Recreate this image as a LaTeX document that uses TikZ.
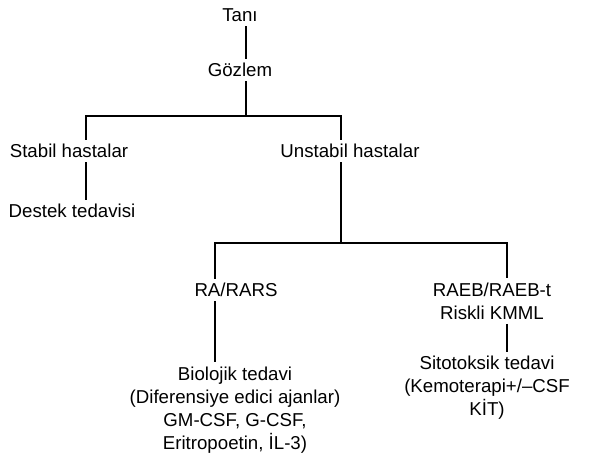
\documentclass[tikz,border=0pt]{standalone}
\usepackage{fontspec}
\setmainfont{Liberation Sans}
\usetikzlibrary{positioning,calc}

\begin{document}
\begin{tikzpicture}[x=0.6pt,y=-0.6pt,font=\fontsize{11.2}{13.8}\selectfont,
              t/.style={inner sep=2.5pt,align=center},
              ln/.style={line width=1.1pt}]
  \useasboundingbox (0,0) rectangle (611,472);
  % upper part
  \node[t] (tani) at (240,15) {Tanı};
  \node[t] (gozlem) at (240,70) {Gözlem};
  \node[t] (stabil) at (69,151) {Stabil hastalar};
  \node[t] (unstabil) at (350,151) {Unstabil hastalar};
  \node[t] (destek) at (72,211) {Destek tedavisi};
  % lower part
  \node[t] (rara) at (236,290) {RA/RARS};
  \node[t] (raeb) at (492,301) {RAEB/RAEB-t\\Riskli KMML};
  \node[t] (biyo) at (235,410) {Biolojik tedavi\\(Diferensiye edici ajanlar)\\GM-CSF, G-CSF,\\Eritropoetin, İL-3)};
  \node[t] (sito) at (487,388) {Sitotoksik tedavi\\(Kemoterapi+/–CSF\\KİT)};
  \coordinate (j1) at (246,116); \coordinate (sL) at (86,116); \coordinate (sR) at (341,116);
  \coordinate (j2) at (341,243); \coordinate (rL) at (215,243); \coordinate (rR) at (507,243);
  \draw[ln] (tani.south -| j1) -- (gozlem.north -| j1);
  \draw[ln] (gozlem.south -| j1) -- (j1);
  \draw[ln] (sL |- stabil.north) -- (sL) -- (sR) -- (sR |- unstabil.north);
  \draw[ln] (stabil.south -| sL) -- (destek.north -| sL);
  \draw[ln] (unstabil.south -| j2) -- (j2);
  \draw[ln] (rL |- rara.north) -- (rL) -- (rR) -- (rR |- raeb.north);
  \draw[ln] (rara.south -| rL) -- (biyo.north -| rL);
  \draw[ln] (raeb.south -| rR) -- (sito.north -| rR);
\end{tikzpicture}
\end{document}
